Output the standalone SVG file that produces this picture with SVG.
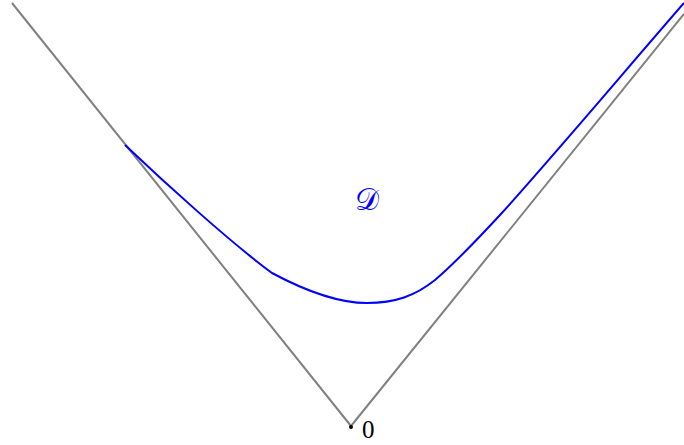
<svg xmlns="http://www.w3.org/2000/svg" width="684" height="445" viewBox="0 0 684 445">
<style>
.axis{fill:none;stroke:#808080;stroke-width:2}
.curve{fill:none;stroke:#0000ff;stroke-width:2}
.lbl{font-family:"Liberation Serif","DejaVu Serif",serif}
</style>
<rect width="684" height="445" fill="#fff"/>
<g id="connectors">
<path class="axis" d="M351,426 L12,3"/>
<path class="axis" d="M351,426 L684,14"/>
</g>
<g id="curve">
<path class="curve" d="M125,145 C165,183 230,242 272,273 C300,288 335,303 367,303 C395,303 415,296 435,280 C455,263 475,242 500,215 C550,160 630,65 684,3"/>
</g>
<g id="origin">
<circle cx="351" cy="427" r="2" fill="#000"/>
<text class="lbl" x="362" y="438" font-size="25" fill="#000">0</text>
</g>
<g id="label-D">
<text class="lbl" x="355" y="210" font-size="30" fill="#0000ff">𝒟</text>
</g>
</svg>
